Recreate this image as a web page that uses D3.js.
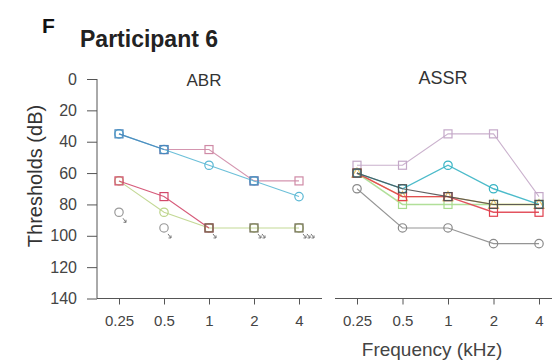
<!DOCTYPE html>
<html><head><meta charset="utf-8">
<script src="https://cdn.jsdelivr.net/npm/d3@7"></script>
<style>body{margin:0;background:#fff}svg{display:block;font-family:"Liberation Sans",Arial,sans-serif}</style>
</head><body><svg id="c" width="552" height="361"></svg>
<script>
const freqs = ["0.25","0.5","1","2","4"];
const yTicks = [0,20,40,60,80,100,120,140];

// ABR series
const abrCyan  = [35,45,55,65,75];
const abrBlue  = [35,45,null,65,null];
const abrMauve = [null,45,45,65,65];
const abrRed   = [65,75,95,null,null];
const abrGreen = [65,85,95,95,95];
const abrDark  = [null,null,95,95,95];
const abrNR    = [85,95,null,null,null];
const abrArrows = [85,95,95,95,95];
const abrArrowCount = [1,1,1,2,3];

// ASSR series
const assrMauve  = [55,55,35,35,75];
const assrGreen  = [60,80,80,80,80];
const assrYellow = [60,75,75,80,80];
const assrRed    = [60,75,75,85,85];
const assrCyan   = [60,70,55,70,80];
const assrDark   = [60,70,75,80,80];
const assrGray   = [70,95,95,105,105];

const svg = d3.select("#c");
const y = d3.scaleLinear().domain([0,140]).range([79,298.5]);
const xA = d3.scalePoint().domain(freqs).range([119,299]);
const xS = d3.scalePoint().domain(freqs).range([357,539]);
const axisCol = "#555";
const FF = "Liberation Sans, Arial, sans-serif";

// Titles
svg.append("text").attr("x",42).attr("y",33).attr("font-size",21).attr("font-weight","bold").attr("fill","#111").text("F");
svg.append("text").attr("x",80).attr("y",47).attr("font-size",23).attr("font-weight","bold").attr("fill","#222").text("Participant 6");
svg.append("text").attr("x",204).attr("y",86).attr("font-size",17).attr("text-anchor","middle").attr("fill","#333").text("ABR");
svg.append("text").attr("x",443).attr("y",84).attr("font-size",18).attr("text-anchor","middle").attr("fill","#333").text("ASSR");
svg.append("text").attr("transform","translate(42,176) rotate(-90)").attr("font-size",20).attr("text-anchor","middle").attr("fill","#333").text("Thresholds (dB)");
svg.append("text").attr("x",432).attr("y",356).attr("font-size",19).attr("text-anchor","middle").attr("fill","#444").text("Frequency (kHz)");

// Y axis
const ya = svg.append("g").attr("transform","translate(97,0)")
  .call(d3.axisLeft(y).tickValues(yTicks).tickSize(10).tickPadding(10).tickFormat(d3.format("d")));
ya.select(".domain").attr("stroke",axisCol).attr("d","M0,"+y(0)+"V"+y(140));
ya.selectAll("line").attr("stroke",axisCol);
ya.selectAll("text").attr("font-size",16).attr("fill","#444").attr("font-family",FF);

function xAxis(x, x0, x1){
  const g = svg.append("g").attr("transform","translate(0,"+y(140)+")")
    .call(d3.axisBottom(x).tickSize(6).tickPadding(11));
  g.select(".domain").attr("stroke",axisCol).attr("d","M"+x0+",0H"+x1);
  g.selectAll("line").attr("stroke",axisCol);
  g.selectAll("text").attr("font-size",15).attr("fill","#444").attr("font-family",FF);
}
xAxis(xA,97,322);
xAxis(xS,335,552);

function series(x, vals, color, shape, drawLine=true, sw=1.1){
  const pts = freqs.map((f,i)=>({f,v:vals[i]}));
  if(drawLine){
    const line = d3.line().defined(d=>d.v!=null).x(d=>x(d.f)).y(d=>y(d.v));
    svg.append("path").datum(pts).attr("d",line).attr("fill","none").attr("stroke",color).attr("stroke-width",sw).attr("opacity",0.9);
  }
  const p = pts.filter(d=>d.v!=null);
  if(shape==="square"){
    svg.selectAll(null).data(p).enter().append("rect")
      .attr("x",d=>x(d.f)-4).attr("y",d=>y(d.v)-4).attr("width",8).attr("height",8)
      .attr("fill","none").attr("stroke",color).attr("stroke-width",1.2);
  } else if(shape==="circle"){
    svg.selectAll(null).data(p).enter().append("circle")
      .attr("cx",d=>x(d.f)).attr("cy",d=>y(d.v)).attr("r",4.2)
      .attr("fill","none").attr("stroke",color).attr("stroke-width",1.2);
  } else if(shape==="triangle"){
    svg.selectAll(null).data(p).enter().append("path")
      .attr("d",d=>{const cx=x(d.f),cy=y(d.v);return `M${cx},${cy-5}L${cx+5},${cy+4}L${cx-5},${cy+4}Z`;})
      .attr("fill","none").attr("stroke",color).attr("stroke-width",1.2);
  }
}

// ABR
series(xA, abrMauve, "#cf8aa6", "square");
series(xA, abrCyan, "#5bb8d4", "circle");
series(xA, abrBlue, "#4a86bd", "square");
series(xA, abrGreen, "#bcd48a", "circle");
series(xA, abrRed, "#d2486a", "square");
series(xA, abrDark, "#6e6a52", "square", false);
series(xA, abrNR, "#9a9a9a", "circle", false);

// no-response arrows
freqs.forEach((f,i)=>{
  for(let k=0;k<abrArrowCount[i];k++){
    const cx = xA(f)+4+k*4, cy = y(abrArrows[i])+6;
    svg.append("path").attr("d",`M${cx},${cy}L${cx+3},${cy+4}M${cx+3},${cy+4}L${cx+3},${cy+1.5}M${cx+3},${cy+4}L${cx+0.5},${cy+4}`)
      .attr("stroke","#777").attr("stroke-width",1).attr("fill","none");
  }
});

// ASSR
series(xS, assrMauve, "#c4a8c8", "square");
series(xS, assrGreen, "#a9dc8e", "square", true, 1.4);
series(xS, assrYellow, "#e6c46a", "triangle", true, 1.4);
series(xS, assrRed, "#e0404e", "square", true, 1.4);
series(xS, assrCyan, "#38b4c4", "circle", true, 1.4);
series(xS, assrDark, "#505050", "square");
series(xS, assrGray, "#8a8a8a", "circle");
</script></body></html>
